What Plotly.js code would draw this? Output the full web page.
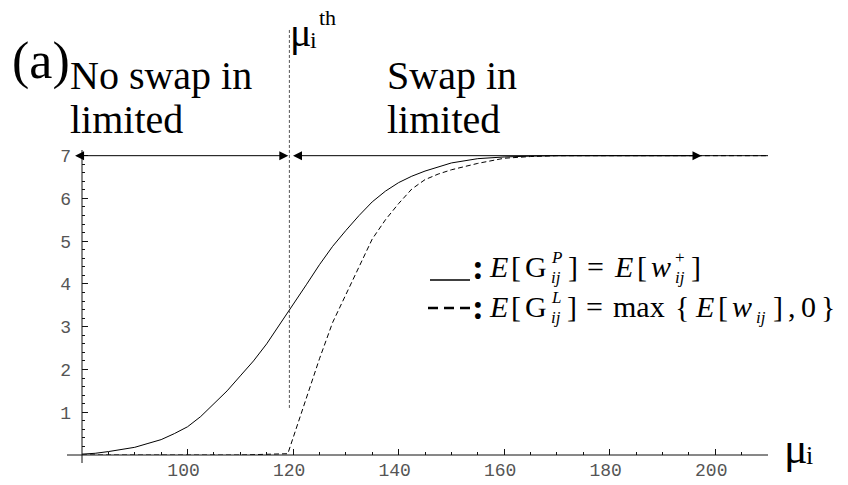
<!DOCTYPE html>
<html><head><meta charset="utf-8">
<script src="https://cdn.plot.ly/plotly-3.0.1.min.js"></script>
<style>html,body{margin:0;padding:0;background:#fff;}</style>
</head><body><div id="chart" style="width:848px;height:485px;"></div>
<script>
// ---- data ----
const muSolid = [80,82.5,85,87.5,90,92.5,95,97.5,100,102.5,105,107.5,110,112.5,115,117.5,120,122.5,125,127.5,130,132.5,135,137.5,140,142.5,145,150,155,160,165,170,180,190,200,210];
const gSolid  = [0.02,0.04,0.08,0.13,0.18,0.27,0.36,0.5,0.66,0.9,1.2,1.5,1.85,2.2,2.6,3.05,3.5,3.98,4.45,4.88,5.25,5.6,5.92,6.17,6.37,6.52,6.64,6.83,6.93,6.97,6.99,7,7,7,7,7];
const muDashed = [80,90,100,110,119,120,121,122.5,124,125,127.5,130,132.5,135,137.5,140,142.5,145,147.5,150,155,160,165,170,180,190,200,210];
const gDashed  = [0,0,0,0,0.03,0.4,0.8,1.35,1.9,2.25,3.1,3.75,4.4,5.05,5.5,5.88,6.22,6.44,6.57,6.67,6.82,6.94,6.98,7,7,7,7,7];
const xTickVals = [100,120,140,160,180,200];
const xTickText = ['100','120','140','160','180','200'];
const yTickVals = [1,2,3,4,5,6,7];
const yTickText = ['1','2','3','4','5','6','7'];
const muThreshold = 119.3;
const gMax = 7;
const leftArrowEnd = 78.4;
const rightArrowEnd = 197.4;

// ---- geometry ----
const W=848, H=485, L=82, R=80, T=10, B=30;
const PW=W-L-R, PH=H-T-B;
const X0=80, X1=210, YPX=42.76, Y1=PH/YPX;
const pxX = px => (px-L)/PW;
const pyY = py => (H-B-py)/PH;
const xd2px = x => L+(x-X0)/(X1-X0)*PW;

const xMinor=[]; for(let v=85; v<=210; v+=5){ if(!xTickVals.includes(v)) xMinor.push(v); }
const yMinor=[]; for(let k=1;k<=35;k++){ if(k%5) yMinor.push(k/5); }

const SERIF='"Liberation Serif", "Times New Roman", Tinos, "DejaVu Serif", serif';
const MONO='"Liberation Mono", "Courier New", Cousine, "DejaVu Sans Mono", monospace';
const ctx=document.createElement('canvas').getContext('2d');
function tw(t,sz,it){ ctx.font=(it?'italic ':'')+sz+'px '+SERIF; return ctx.measureText(t).width; }
function txt(t,x,base,sz,it,bold){
  let s=t; if(it) s='<i>'+s+'</i>'; if(bold) s='<b>'+s+'</b>';
  return {xref:'paper',yref:'paper',x:pxX(x),y:pyY(base-0.3375*sz),xanchor:'left',yanchor:'middle',
    text:s,showarrow:false,borderpad:0,borderwidth:0,font:{family:SERIF,size:sz,color:'#000'}};
}
function seq(items,x,base,gap){
  const out=[];
  for(const it of items){
    if(it.stack){
      let w=0;
      for(const s of it.stack){ out.push(txt(s.t,x,base+s.dy,s.sz,s.it)); w=Math.max(w,tw(s.t,s.sz,s.it)); }
      x+=w+gap+(it.extra||0);
    } else {
      out.push(txt(it.t,x,base,it.sz,it.it));
      x+=tw(it.t,it.sz,it.it)+gap+(it.extra||0);
    }
  }
  return out;
}
const FS=30, SS=17, UP=-14, DN=6;
const line1=[{t:'E',it:1,sz:FS},{t:'[',sz:FS},{t:'G',sz:FS},
  {stack:[{t:'P',it:1,sz:SS,dy:UP},{t:'ij',it:1,sz:SS,dy:DN}],extra:3},{t:']',sz:FS,extra:5},{t:'=',sz:FS,extra:6},
  {t:'E',it:1,sz:FS},{t:'[',sz:FS},{t:'w',it:1,sz:FS},
  {stack:[{t:'+',sz:SS,dy:UP},{t:'ij',it:1,sz:SS,dy:DN}],extra:3},{t:']',sz:FS}];
const line2=[{t:'E',it:1,sz:FS},{t:'[',sz:FS},{t:'G',sz:FS},
  {stack:[{t:'L',it:1,sz:SS,dy:UP},{t:'ij',it:1,sz:SS,dy:DN}],extra:3},{t:']',sz:FS,extra:5},{t:'=',sz:FS,extra:6},
  {t:'max',sz:FS,extra:6},{t:'{',sz:FS,extra:2},{t:'E',it:1,sz:FS},{t:'[',sz:FS},{t:'w',it:1,sz:FS},
  {stack:[{t:'ij',it:1,sz:SS,dy:DN}],extra:4},{t:']',sz:FS,extra:1},{t:',',sz:FS,extra:1},{t:'0',sz:FS,extra:1},{t:'}',sz:FS}];

const annotations=[
  txt('(a)',12,79,52),
  txt('No swap in',70,89,40), txt('limited',70,133,40),
  txt('Swap in',387,89,40), txt('limited',387,133,40),
  txt('μ',290,46,40), txt('i',310,48,24), txt('th',319,25,22),
  txt('μ',784,463,44), txt('i',806,464,26),
  txt(':',472,279,36,0,1), txt(':',472,319,36,0,1),
  ...seq(line1,489,277,4),
  ...seq(line2,489,317,4),
  {xref:'paper',yref:'y',x:pxX(xd2px(muThreshold-0.2)),y:gMax,ax:xd2px(leftArrowEnd)-xd2px(muThreshold-0.2),ay:0,
   text:'',showarrow:true,arrowside:'end+start',arrowhead:2,startarrowhead:2,arrowsize:1.8,startarrowsize:1.8,
   arrowwidth:1,arrowcolor:'#000',standoff:0,startstandoff:0},
  {xref:'paper',yref:'y',x:pxX(xd2px(rightArrowEnd)),y:gMax,ax:xd2px(muThreshold+0.4)-xd2px(rightArrowEnd),ay:0,
   text:'',showarrow:true,arrowside:'end+start',arrowhead:2,startarrowhead:2,arrowsize:1.8,startarrowsize:1.8,
   arrowwidth:1,arrowcolor:'#000',standoff:0,startstandoff:0}
];

const shapes=[
  {type:'line',xref:'paper',yref:'paper',x0:pxX(67),x1:1,y0:0,y1:0,line:{color:'#111',width:1}},
  {type:'line',xref:'paper',yref:'paper',x0:0,x1:0,y0:pyY(463),y1:pyY(150),line:{color:'#111',width:1}},
  {type:'line',xref:'x',yref:'y',x0:muThreshold,x1:muThreshold,y0:1.1,y1:9.94,line:{color:'#555',width:1,dash:'3px,2px'}},
  {type:'line',xref:'paper',yref:'paper',x0:pxX(430),x1:pxX(470),y0:pyY(280),y1:pyY(280),line:{color:'#000',width:1.5}},
  {type:'line',xref:'paper',yref:'paper',x0:pxX(428),x1:pxX(472),y0:pyY(308),y1:pyY(308),line:{color:'#000',width:2.5,dash:'10px,6px'}}
];

const traces=[
  {x:muSolid,y:gSolid,type:'scatter',mode:'lines',line:{color:'#000',width:1},hoverinfo:'skip'},
  {x:muDashed,y:gDashed,type:'scatter',mode:'lines',line:{color:'#000',width:1,dash:'5px,3px'},hoverinfo:'skip'}
];
const tickfont={family:MONO,size:18,color:'#555'};
const layout={
  width:W,height:H,margin:{l:L,r:R,t:T,b:B},paper_bgcolor:'#fff',plot_bgcolor:'#fff',showlegend:false,
  xaxis:{range:[X0,X1],showgrid:false,zeroline:false,showline:false,ticks:'inside',ticklen:6,tickwidth:1,tickcolor:'#111',
    tickmode:'array',tickvals:xTickVals,ticktext:xTickText,tickfont,ticklabelstandoff:2,ticklabelshift:-4,fixedrange:true,
    minor:{tickmode:'array',tickvals:xMinor,ticks:'inside',ticklen:3,tickwidth:1,tickcolor:'#111',showgrid:false}},
  yaxis:{range:[0,Y1],showgrid:false,zeroline:false,showline:false,ticks:'inside',ticklen:6,tickwidth:1,tickcolor:'#111',
    tickmode:'array',tickvals:yTickVals,ticktext:yTickText,tickfont,ticklabelstandoff:10,fixedrange:true,
    minor:{tickmode:'array',tickvals:yMinor,ticks:'inside',ticklen:3,tickwidth:1,tickcolor:'#111',showgrid:false}},
  annotations,shapes
};
Plotly.newPlot('chart',traces,layout,{displayModeBar:false,staticPlot:true});
</script></body></html>
